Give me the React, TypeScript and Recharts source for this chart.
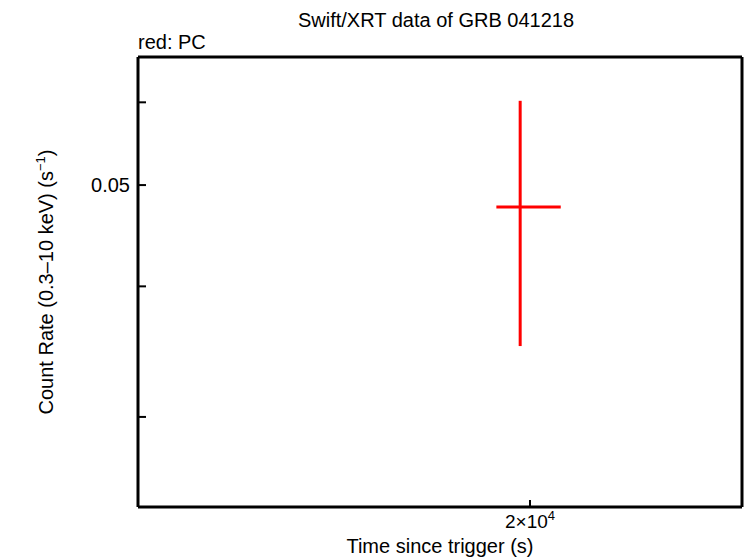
import { ScatterChart, Scatter, XAxis, YAxis, ErrorBar } from 'recharts';

// PC mode point (time since trigger in s, count rate in s^-1)
const times = [19690];
const timeErrLow = [730];
const timeErrHigh = [1310];
const rates = [0.04763];
const rateErrLow = [0.01256];
const rateErrHigh = [0.01257];

const xTicks = [20000];
const yTicks = [0.03, 0.04, 0.05, 0.06];
const xDomain = [10735, 28000];
const yDomain = [0.0246, 0.0663];

const data = times.map((t, i) => ({
  time: t,
  rate: rates[i],
  xErr: [timeErrLow[i], timeErrHigh[i]],
  yErr: [rateErrLow[i], rateErrHigh[i]],
}));

const W = 746;
const H = 558;
const FONT = '"Liberation Sans", Arial, sans-serif';
const frame = { stroke: '#000', strokeWidth: 3 };
const tickStyle = { stroke: '#000', strokeWidth: 2 };

const XTick = (props: any) => {
  const { x, y, payload } = props;
  if (payload.value !== 20000) return null;
  return (
    <text x={x} y={y + 24} textAnchor="middle" fontSize={19} fontFamily={FONT} fill="#000">
      2×10<tspan dy={-8} fontSize={13}>4</tspan>
    </text>
  );
};

export default function App() {
  return (
    <div style={{ position: 'absolute', left: 0, top: 0, width: W, height: H, background: '#fff' }}>
      <ScatterChart width={W} height={H} margin={{ top: 56, right: 3, bottom: 0, left: 0 }}>
        <XAxis
          xAxisId="b"
          dataKey="time"
          type="number"
          scale="log"
          domain={xDomain}
          allowDataOverflow
          ticks={xTicks}
          interval={0}
          height={51}
          tickSize={-7}
          tickMargin={4}
          tick={<XTick />}
          axisLine={frame}
          tickLine={tickStyle}
        />
        <XAxis
          xAxisId="t"
          dataKey="time"
          orientation="top"
          type="number"
          scale="log"
          domain={xDomain}
          allowDataOverflow
          ticks={xTicks}
          interval={0}
          height={1}
          tickSize={-7}
          tick={false}
          axisLine={frame}
          tickLine={tickStyle}
        />
        <YAxis
          yAxisId="l"
          dataKey="rate"
          type="number"
          scale="log"
          domain={yDomain}
          allowDataOverflow
          ticks={yTicks}
          interval={0}
          width={138}
          tickSize={-8}
          tickMargin={16}
          tickFormatter={(v: number) => (v === 0.05 ? '0.05' : '')}
          tick={{ fill: '#000', fontSize: 20, fontFamily: FONT }}
          axisLine={frame}
          tickLine={tickStyle}
        />
        <YAxis
          yAxisId="r"
          dataKey="rate"
          orientation="right"
          type="number"
          scale="log"
          domain={yDomain}
          allowDataOverflow
          ticks={yTicks}
          interval={0}
          width={1}
          tickSize={-8}
          tick={false}
          axisLine={frame}
          tickLine={tickStyle}
        />
        {/* invisible copy bound to the mirrored axes so they get drawn */}
        <Scatter data={data} xAxisId="t" yAxisId="r" isAnimationActive={false} shape={() => <g />} />
        <Scatter
          data={data}
          xAxisId="b"
          yAxisId="l"
          isAnimationActive={false}
          shape={() => <g />}
        >
          <ErrorBar dataKey="xErr" direction="x" width={0} stroke="#ff0000" strokeWidth={3} isAnimationActive={false} />
          <ErrorBar dataKey="yErr" direction="y" width={0} stroke="#ff0000" strokeWidth={3} isAnimationActive={false} />
        </Scatter>
      </ScatterChart>
      <svg width={W} height={H} style={{ position: 'absolute', left: 0, top: 0, pointerEvents: 'none' }}>
        <text x={436} y={27} textAnchor="middle" fontSize={20} fontFamily={FONT} fill="#000">
          Swift/XRT data of GRB 041218
        </text>
        <text x={138} y={49} fontSize={20} fontFamily={FONT} fill="#000">
          red: PC
        </text>
        <text x={440} y={553} textAnchor="middle" fontSize={20} fontFamily={FONT} fill="#000">
          Time since trigger (s)
        </text>
        <text
          transform="translate(53,282) rotate(-90)"
          textAnchor="middle"
          fontSize={20}
          fontFamily={FONT}
          fill="#000"
        >
          Count Rate (0.3–10 keV) (s<tspan dy={-8} fontSize={13}>−1</tspan>
          <tspan dy={8}>)</tspan>
        </text>
      </svg>
    </div>
  );
}
